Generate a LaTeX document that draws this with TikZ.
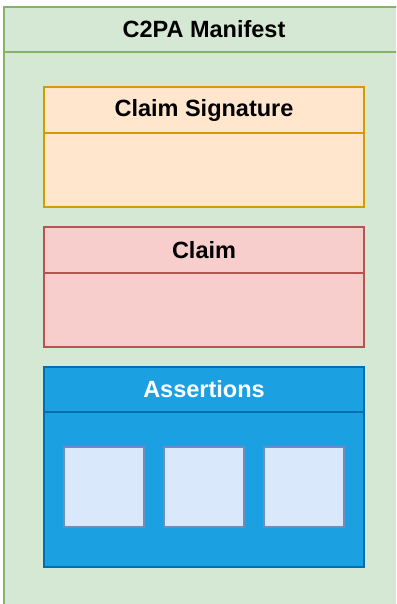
\documentclass[tikz,border=0pt]{standalone}
\usepackage{fontspec}
\setmainfont{Liberation Sans}
\definecolor{greenfill}{HTML}{D5E8D4}
\definecolor{greenline}{HTML}{82B366}
\definecolor{orangefill}{HTML}{FFE6CC}
\definecolor{orangeline}{HTML}{D79B00}
\definecolor{redfill}{HTML}{F8CECC}
\definecolor{redline}{HTML}{B85450}
\definecolor{bluefill}{HTML}{1BA1E2}
\definecolor{blueline}{HTML}{006EAF}
\definecolor{itemfill}{HTML}{DAE8FC}
\definecolor{itemline}{HTML}{6C8EBF}

\tikzset{%
  every node/.style={
    inner sep=0pt, line width=2pt,
    font=\fontsize{23.5}{27}\selectfont\bfseries
  },
  lane/.style={draw, rectangle, minimum width=320pt, minimum height=120pt},
  lanetitle/.style={draw, rectangle, minimum width=320pt, minimum height=46pt, anchor=north},
  item/.style={draw=itemline, fill=itemfill, minimum size=80pt}
}

\begin{document}
\begin{tikzpicture}[x=1pt, y=-1pt]
        \clip (0,0) rectangle (396,604);
        % manifest
        \node[lane, draw=greenline, fill=greenfill, minimum width=400pt, minimum height=607pt] at (204,310.5) (manifest) {};
        \node[lanetitle, draw=greenline, minimum width=400pt, minimum height=45pt] at (manifest.north) (manifesttitle) {C2PA Manifest};
        % claim signature
        \node[lane, draw=orangeline, fill=orangefill] at (204,147) (signature) {};
        \node[lanetitle, draw=orangeline] at (signature.north) (signaturetitle) {Claim Signature};
        % claim
        \node[lane, draw=redline, fill=redfill] at (204,287) (claim) {};
        \node[lanetitle, draw=redline] at (claim.north) (claimtitle) {Claim};
        % assertions
        \node[lane, draw=blueline, fill=bluefill, minimum height=200pt] at (204,467) (assertions) {};
        \node[lanetitle, draw=blueline, minimum height=45pt, text=white] at (assertions.north) (assertionstitle) {Assertions};
        \node[item] at (104,487) (a1) {};
        \node[item] at (204,487) (a2) {};
        \node[item] at (304,487) (a3) {};
      \end{tikzpicture}
\end{document}
